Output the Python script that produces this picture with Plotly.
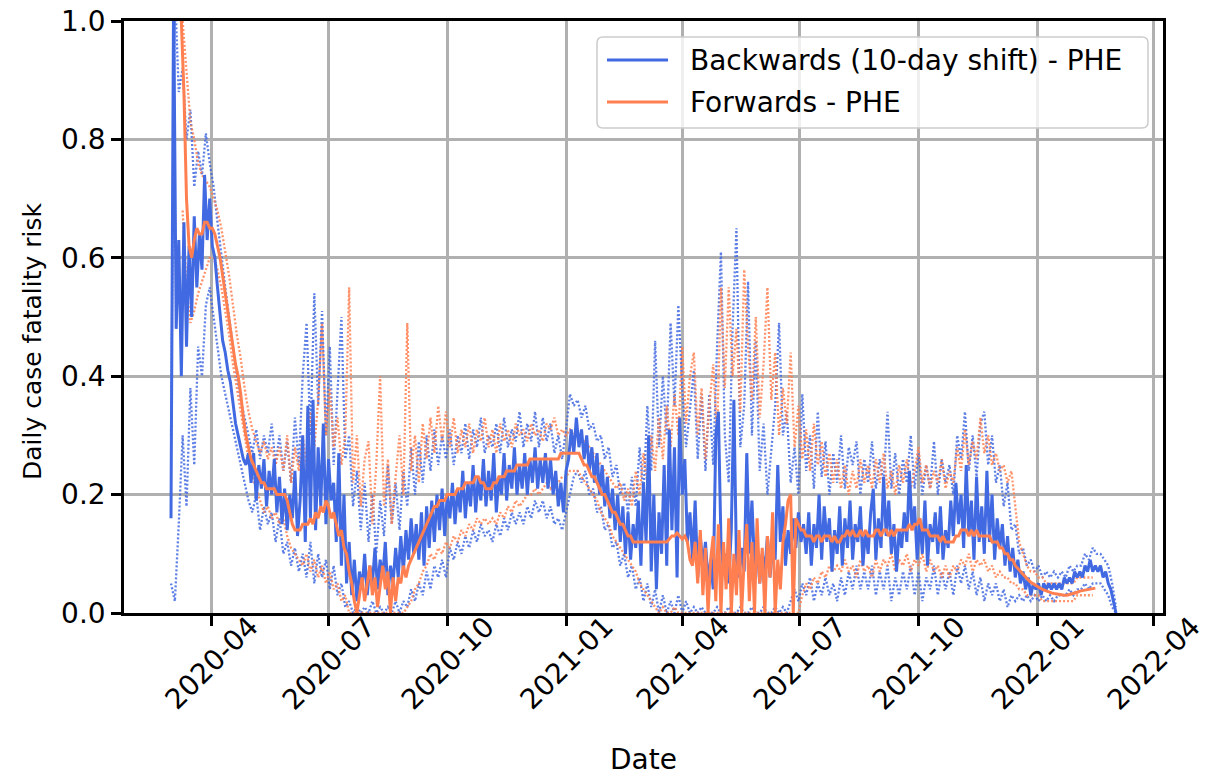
import pandas as pd
import plotly.graph_objects as go

# Daily case fatality risk, stored in percent.
# Central estimates: one value every 2 days; 95% bounds: one value every 3 days.
backward_start = "2020-03-01"
backward_pct = [
    16, 105, 48, 63, 40, 66, 45, 62, 50, 67,
    55, 64, 58, 74, 63, 70, 62, 60, 55, 50,
    46, 44, 41, 39, 35, 32, 30, 28, 26, 25,
    27, 22, 27, 19, 25, 21, 26, 18, 24, 20,
    26, 17, 23, 15, 21, 14, 20, 16, 24, 13,
    19, 30, 12, 35, 16, 36, 14, 28, 18, 32,
    15, 26, 19, 22, 12, 27, 8, 20, 5, 12,
    3, 9, 2, 7, 4, 10, 3, 8, 5, 11,
    4, 9, 6, 12, 3, 8, 5, 11, 6, 13,
    7, 14, 9, 16, 10, 15, 9, 17, 8, 18,
    11, 19, 12, 20, 14, 21, 13, 20, 16, 22,
    15, 21, 17, 24, 16, 22, 18, 25, 17, 23,
    19, 26, 18, 24, 19, 27, 17, 23, 20, 27,
    19, 25, 21, 28, 20, 25, 21, 27, 20, 26,
    22, 28, 21, 26, 22, 27, 21, 26, 20, 24,
    18, 22, 17, 24, 26, 31, 27, 33, 28, 31,
    26, 30, 24, 28, 22, 27, 20, 25, 18, 23,
    16, 21, 14, 20, 12, 18, 10, 17, 9, 15,
    11, 19, 8, 22, 12, 30, 7, 20, 4, 17,
    10, 25, 8, 31, 14, 28, 6, 33, 20, 26,
    12, 17, 9, 19, 6, 13, 8, 12, 5, 9,
    4, 30, 34, 12, 7, 10, 5, 14, 36, 9,
    6, 11, 7, 27, 10, 19, 8, 12, 5, 10,
    7, 13, 6, 11, 9, 25, 12, 18, 8, 14,
    10, 16, 11, 17, 12, 15, 10, 17, 8, 15,
    11, 20, 9, 18, 12, 16, 7, 14, 10, 18,
    8, 16, 11, 19, 9, 15, 12, 18, 8, 14,
    10, 17, 21, 9, 16, 11, 23, 13, 19, 10,
    15, 7, 14, 11, 17, 12, 24, 14, 18, 9,
    16, 10, 19, 8, 15, 12, 17, 10, 18, 9,
    14, 11, 19, 13, 22, 15, 20, 11, 25, 13,
    19, 9, 23, 12, 18, 10, 24, 12, 20, 9,
    16, 11, 15, 8, 13, 7, 11, 6, 9, 5,
    7, 4, 6, 3, 5, 4, 5, 3, 5, 4,
    5, 4, 5, 4, 5, 4, 6, 5, 6, 5,
    7, 6, 7, 6, 8, 7, 9, 7, 8, 7,
    8, 6, 7, 5, 4, 2, 0,
]
backward_upper_pct = [
    30, 105, 88, 92, 80, 85, 72, 78, 74, 81,
    76, 72, 66, 60, 55, 50, 45, 40, 36, 33,
    30, 27, 31, 26, 30, 27, 32, 25, 30, 24,
    29, 22, 33, 25, 40, 49, 30, 54, 35, 51,
    30, 45, 25, 38, 50, 26, 30, 18, 24, 14,
    22, 12, 20, 10, 19, 13, 25, 15, 22, 14,
    24, 18, 28, 20, 29, 22, 30, 24, 31, 25,
    30, 26, 31, 25, 30, 27, 32, 26, 31, 28,
    33, 27, 30, 28, 32, 27, 33, 28, 31, 29,
    34, 28, 32, 29, 34, 28, 33, 29, 32, 27,
    30, 26, 31, 37, 35, 36, 33, 35, 31, 32,
    29, 30, 26, 28, 23, 25, 20, 22, 17, 23,
    18, 28, 20, 35, 24, 46, 28, 40, 30, 49,
    35, 52, 38, 28, 34, 41, 26, 37, 24, 37,
    25, 45, 61, 30, 22, 48, 65, 28, 35, 56,
    30, 46, 24, 32, 20, 28, 35, 49, 30, 34,
    22, 28, 20, 37, 24, 30, 21, 34, 23, 29,
    20, 27, 22, 30, 21, 28, 25, 29, 20, 26,
    22, 29, 21, 26, 22, 34, 21, 27, 20, 26,
    22, 30, 21, 27, 20, 25, 21, 29, 20, 26,
    22, 25, 20, 30, 26, 34, 24, 30, 23, 32,
    34, 25, 30, 22, 25, 18, 22, 14, 15, 10,
    11, 8, 9, 7, 8, 6, 7, 6, 7, 6,
    7, 6, 8, 7, 8, 8, 10, 9, 11, 10,
    10, 9, 8, 5, 1,
]
backward_lower_pct = [
    5, 2, 15, 30, 18, 38, 25, 45, 40, 52,
    55, 50, 45, 40, 37, 34, 31, 28, 25, 22,
    19, 17, 20, 14, 18, 15, 17, 12, 16, 10,
    12, 8, 11, 7, 10, 6, 12, 5, 10, 6,
    9, 4, 8, 3, 5, 1, 2, 0, 1, 0,
    1, 0, 2, 0, 1, 0, 1, 0, 2, 0,
    2, 1, 4, 2, 5, 3, 7, 4, 8, 6,
    9, 6, 11, 9, 12, 10, 13, 11, 14, 12,
    15, 13, 14, 12, 15, 13, 16, 14, 17, 15,
    17, 15, 18, 16, 19, 17, 19, 16, 18, 15,
    16, 14, 17, 20, 23, 24, 22, 24, 20, 21,
    17, 18, 14, 15, 11, 12, 8, 10, 6, 8,
    4, 6, 2, 5, 1, 4, 0, 3, 0, 2,
    0, 3, 0, 2, 0, 1, 0, 1, 0, 0,
    0, 1, 0, 0, 1, 0, 0, 1, 0, 0,
    1, 0, 0, 1, 0, 0, 1, 0, 1, 0,
    2, 4, 2, 5, 3, 6, 2, 5, 3, 6,
    3, 5, 2, 6, 3, 7, 4, 8, 4, 7,
    4, 8, 3, 7, 4, 8, 2, 6, 3, 7,
    4, 8, 3, 7, 2, 6, 4, 8, 3, 7,
    4, 7, 3, 8, 5, 8, 4, 7, 3, 6,
    2, 5, 3, 5, 2, 4, 1, 3, 2, 3,
    2, 3, 2, 3, 2, 3, 2, 3, 2, 3,
    3, 3, 4, 3, 4, 4, 5, 4, 5, 5,
    5, 4, 3, 1, 0,
]

forward_start = "2020-03-09"
forward_bounds_start = "2020-03-10"
forward_pct = [
    100, 88, 70, 62, 60, 63, 65, 64, 64, 66,
    66, 65, 65, 64, 62, 60, 57, 54, 51, 48,
    45, 42, 40, 37, 33, 30, 28, 26, 25, 24,
    23, 22, 22, 21, 21, 21, 21, 20, 20, 20,
    20, 19, 17, 15, 14, 14, 14, 15, 15, 15,
    16, 15, 17, 16, 18, 17, 19, 18, 16, 17,
    15, 13, 14, 11, 10, 7, 5, 2, 0, 3,
    6, 2, 5, 8, 3, 6, 1, 5, 8, 4,
    7, 0, 6, 2, 6, 5, 8, 6, 8, 9,
    10, 11, 12, 13, 14, 15, 16, 17, 18, 18,
    19, 19, 19, 20, 20, 20, 20, 21, 21, 21,
    22, 22, 22, 22, 23, 23, 22, 22, 21, 21,
    21, 22, 22, 23, 23, 23, 24, 24, 24, 24,
    25, 25, 25, 25, 25, 26, 26, 26, 26, 26,
    26, 26, 26, 26, 26, 26, 26, 27, 27, 27,
    27, 27, 27, 27, 27, 26, 25, 25, 24, 23,
    23, 22, 21, 20, 20, 19, 18, 17, 17, 16,
    15, 15, 14, 13, 13, 12, 12, 12, 12, 12,
    12, 12, 12, 12, 12, 12, 12, 12, 12, 12.5,
    13, 13, 13.5, 13, 12.5, 13, 12, 9, 8, 12,
    5, 14, 3, 11, 0, 9, 13, 2, 15, 0,
    12, 4, 16, 0, 10, 3, 14, 0, 9, 15,
    2, 12, 0, 16, 5, 11, 0, 13, 6, 17,
    0, 9, 4, 12, 15, 19, 20, 0, 16, 15,
    14, 14, 13, 13, 13, 12, 13, 13, 12, 13,
    13, 13, 12, 13, 12, 12, 13, 13, 14, 13,
    14, 13, 13, 14, 13, 14, 13, 13, 13, 14,
    14, 13, 14, 14, 13, 14, 13, 14, 14, 14,
    14, 14, 15, 14, 15, 15, 16, 14, 14, 14,
    13, 13, 13, 13, 12, 13, 12, 12, 12, 12,
    13, 13, 14, 14, 14, 13, 14, 13, 14, 13,
    13, 13, 13, 13, 12, 12, 12, 11, 11, 10,
    10, 9, 9, 8, 7.5, 7, 6.5, 6, 5.6, 5.2,
    4.9, 4.6, 4.3, 4.1, 3.9, 3.7, 3.5, 3.4, 3.3, 3.2,
    3.1, 3.0, 3.0, 3.0, 3.1, 3.2, 3.3, 3.5, 3.7, 3.8,
    3.9, 4.0, 4.1, 4.2, 4.2,
]
forward_upper_pct = [
    100, 92, 83, 80, 76, 74, 73, 72, 70, 68,
    65, 61, 57, 52, 47, 43, 38, 34, 31, 29,
    27, 29, 26, 28, 25, 28, 24, 30, 22, 28,
    24, 30, 25, 34, 28, 36, 49, 30, 38, 28,
    33, 25, 30, 55, 22, 30, 18, 26, 29, 15,
    25, 40, 18, 26, 15, 23, 30, 20, 49, 24,
    30, 22, 32, 26, 33, 27, 35, 29, 34, 28,
    33, 27, 31, 28, 32, 27, 31, 29, 33, 28,
    31, 27, 32, 29, 31, 28, 32, 30, 31, 29,
    32, 30, 31, 29, 32, 31, 33, 30, 31, 30,
    31, 30, 30, 29, 29, 28, 27, 26, 25, 24,
    23, 22, 21, 22, 19, 21, 18, 24, 20, 27,
    22, 30, 24, 33, 26, 35, 28, 37, 30, 45,
    32, 40, 44, 30, 38, 26, 35, 42, 30, 55,
    38, 55, 40, 48, 34, 58, 45, 36, 50, 33,
    42, 55, 36, 44, 30, 38, 32, 44, 28, 35,
    26, 31, 24, 32, 25, 29, 23, 27, 22, 26,
    21, 25, 20, 24, 21, 26, 22, 25, 21, 26,
    22, 27, 21, 24, 20, 25, 22, 26, 21, 24,
    28, 22, 25, 21, 24, 22, 26, 21, 24, 22,
    28, 24, 31, 25, 29, 26, 33, 27, 30, 25,
    27, 24, 25, 22, 24, 18, 12, 10, 8, 7,
    7, 6, 6, 5, 5, 5, 5, 5, 5, 5,
    5, 6, 6, 6, 6, 6,
]
forward_lower_pct = [
    68, 55, 49, 51, 54, 56, 58, 60, 60, 58,
    55, 51, 47, 42, 38, 34, 30, 26, 23, 21,
    19, 17, 18, 16, 17, 15, 16, 13, 11, 10,
    9, 8, 10, 7, 9, 6, 8, 5, 7, 4,
    5, 2, 3, 0, 0, 0, 0, 0, 0, 0,
    0, 0, 0, 0, 0, 0, 0, 0, 1, 2,
    4, 5, 7, 8, 10, 9, 11, 10, 12, 11,
    13, 12, 14, 13, 15, 14, 16, 15, 16, 15,
    16, 15, 17, 16, 18, 17, 19, 18, 19, 20,
    20, 21, 20, 21, 22, 21, 22, 22, 23, 23,
    24, 24, 24, 23, 22, 21, 20, 19, 17, 16,
    15, 13, 12, 11, 10, 9, 8, 7, 5, 4,
    3, 2, 1, 0, 1, 0, 0, 1, 0, 0,
    0, 0, 0, 0, 0, 0, 0, 0, 0, 0,
    0, 0, 0, 0, 0, 0, 0, 0, 0, 0,
    0, 0, 0, 0, 0, 0, 0, 0, 0, 0,
    3, 5, 4, 6, 5, 7, 6, 8, 7, 8,
    7, 9, 7, 8, 6, 9, 7, 8, 6, 9,
    7, 9, 8, 10, 7, 9, 8, 10, 7, 9,
    8, 10, 7, 9, 7, 8, 6, 8, 6, 8,
    7, 9, 8, 10, 7, 9, 8, 9, 7, 8,
    6, 7, 6, 6, 5, 5, 4, 4, 3, 3,
    3, 3, 2, 2, 2, 2, 2, 2, 2, 2,
    2, 3, 3, 3, 3, 3,
]

tick_dates = ["2020-04-01", "2020-07-01", "2020-10-01", "2021-01-01", "2021-04-01",
              "2021-07-01", "2021-10-01", "2022-01-01", "2022-04-01"]
tick_labels = ["2020-04", "2020-07", "2020-10", "2021-01", "2021-04",
               "2021-07", "2021-10", "2022-01", "2022-04"]
y_ticks = [0.0, 0.2, 0.4, 0.6, 0.8, 1.0]

BLUE = "#4169E1"
ORANGE = "#FF7F50"
FONT = "DejaVu Sans"
FS = 28


def series(start, step_days, pct):
    dates = pd.date_range(start, periods=len(pct), freq=f"{step_days}D")
    return dates, [p / 100 for p in pct]


fig = go.Figure()

bounds = [
    (backward_start, backward_upper_pct, BLUE),
    (backward_start, backward_lower_pct, BLUE),
    (forward_bounds_start, forward_upper_pct, ORANGE),
    (forward_bounds_start, forward_lower_pct, ORANGE),
]
for start, pct, color in bounds:
    x, y = series(start, 3, pct)
    fig.add_trace(go.Scatter(x=x, y=y, mode="lines", showlegend=False, opacity=0.85,
                             line=dict(color=color, width=2.3, dash="2px,2px")))

x, y = series(backward_start, 2, backward_pct)
fig.add_trace(go.Scatter(x=x, y=y, mode="lines", name="Backwards (10-day shift) - PHE",
                         showlegend=False, line=dict(color=BLUE, width=3)))
x, y = series(forward_start, 2, forward_pct)
fig.add_trace(go.Scatter(x=x, y=y, mode="lines", name="Forwards - PHE",
                         showlegend=False, line=dict(color=ORANGE, width=3)))

# plot-area geometry in pixels
L, R, T, B = 124, 1163, 21, 613
W, H = R - L, B - T


def px(xp):
    return (xp - L) / W


def py(yp):
    return (B - yp) / H


annotations = []
for d, lab in zip(tick_dates, tick_labels):
    annotations.append(dict(x=d, xref="x", y=0, yref="paper", yshift=-50,
                            text=lab, textangle=-45, showarrow=False,
                            xanchor="center", yanchor="middle",
                            font=dict(family=FONT, size=FS, color="black")))
annotations.append(dict(x=0.5, xref="paper", y=py(759), yref="paper", text="Date",
                        showarrow=False, xanchor="center", yanchor="middle",
                        font=dict(family=FONT, size=FS, color="black")))
annotations.append(dict(x=px(32), xref="paper", y=py(341), yref="paper",
                        text="Daily case fatality risk", textangle=-90,
                        showarrow=False, xanchor="center", yanchor="middle",
                        font=dict(family=FONT, size=25, color="black")))

# legend box, handles and labels
lx0, lx1, ly0, ly1 = px(597), px(1148), py(128), py(37)
rx, ry = 6 / W, 6 / H
box = (f"M{lx0 + rx},{ly0} L{lx1 - rx},{ly0} Q{lx1},{ly0} {lx1},{ly0 + ry} "
       f"L{lx1},{ly1 - ry} Q{lx1},{ly1} {lx1 - rx},{ly1} "
       f"L{lx0 + rx},{ly1} Q{lx0},{ly1} {lx0},{ly1 - ry} "
       f"L{lx0},{ly0 + ry} Q{lx0},{ly0} {lx0 + rx},{ly0} Z")
shapes = [dict(type="path", path=box, xref="paper", yref="paper",
               fillcolor="rgba(255,255,255,0.8)", line=dict(color="#cccccc", width=1.5),
               layer="above")]
legend_items = [("Backwards (10-day shift) - PHE", BLUE, 60),
                ("Forwards - PHE", ORANGE, 102)]
for text, color, yc in legend_items:
    shapes.append(dict(type="line", xref="paper", yref="paper",
                       x0=px(607), x1=px(668), y0=py(yc), y1=py(yc),
                       line=dict(color=color, width=3), layer="above"))
    annotations.append(dict(x=px(688), xref="paper", y=py(yc), yref="paper", text=text,
                            showarrow=False, xanchor="left", yanchor="middle",
                            font=dict(family=FONT, size=FS, color="black")))

fig.update_layout(
    width=1215, height=777,
    margin=dict(l=L, r=1215 - R, t=T, b=777 - B, autoexpand=False),
    paper_bgcolor="white", plot_bgcolor="white",
    showlegend=False,
    font=dict(family=FONT, size=FS, color="black"),
    annotations=annotations,
    shapes=shapes,
)
fig.update_xaxes(
    range=["2020-01-24 14:00", "2022-04-08 10:00"],
    tickvals=tick_dates, showticklabels=False,
    ticks="outside", ticklen=10, tickwidth=2.5, tickcolor="black",
    showgrid=True, gridcolor="#b0b0b0", gridwidth=2.5,
    showline=True, linecolor="black", linewidth=2.5, mirror=True, zeroline=False,
)
fig.update_yaxes(
    range=[0, 1], tickvals=y_ticks, tickformat=".1f",
    ticks="outside", ticklen=10, tickwidth=2.5, tickcolor="black",
    tickfont=dict(family=FONT, size=FS, color="black"),
    showgrid=True, gridcolor="#b0b0b0", gridwidth=2.5,
    showline=True, linecolor="black", linewidth=2.5, mirror=True, zeroline=False,
)

fig.write_html("out.html", config={"displayModeBar": False})
